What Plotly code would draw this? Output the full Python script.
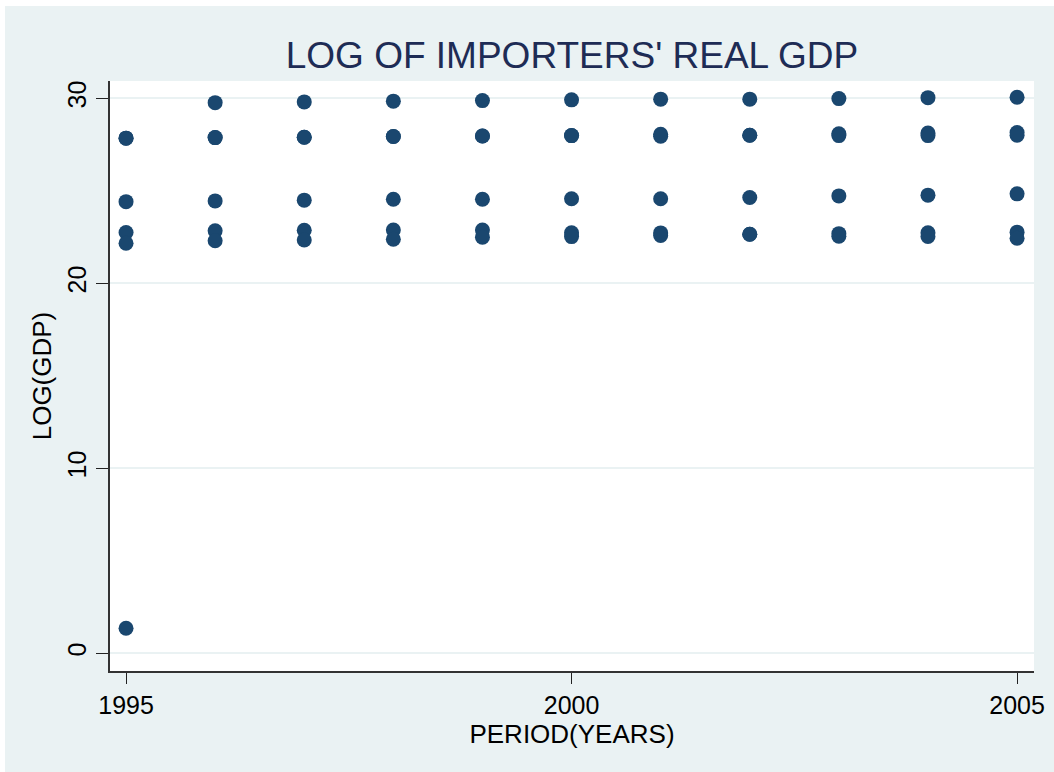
import plotly.graph_objects as go

# Period covered
years = [1995, 1996, 1997, 1998, 1999, 2000, 2001, 2002, 2003, 2004, 2005]

# Log of real GDP by importer
importer_a = [1.35, 29.76, 29.80, 29.84, 29.87, 29.91, 29.95, 29.95, 29.98, 30.03, 30.05]
importer_b = [27.84, 27.87, 27.89, 27.93, 27.96, 27.98, 28.05, 28.00, 28.08, 28.12, 28.14]
importer_c = [27.84, 27.87, 27.89, 27.93, 27.96, 27.98, 27.95, 28.00, 27.98, 27.98, 28.00]
importer_d = [24.41, 24.45, 24.49, 24.54, 24.54, 24.57, 24.57, 24.63, 24.72, 24.76, 24.83]
importer_e = [22.74, 22.83, 22.86, 22.88, 22.88, 22.73, 22.72, 22.65, 22.68, 22.73, 22.76]
importer_f = [22.16, 22.30, 22.34, 22.38, 22.49, 22.52, 22.58, 22.65, 22.54, 22.53, 22.43]

series = [importer_a, importer_b, importer_c, importer_d, importer_e, importer_f]

y_ticks = [0, 10, 20, 30]
x_ticks = [1995, 2000, 2005]

MARK = "#1a476f"
BG = "#eaf2f3"
FONT = "Liberation Sans, Arial, sans-serif"

fig = go.Figure()
for vals in series:
    fig.add_trace(go.Scatter(
        x=years, y=vals, mode="markers",
        marker=dict(size=15, color=MARK, line=dict(width=0)),
        showlegend=False, hoverinfo="x+y",
    ))

W, H = 1054, 772
L, R, T, B = 110, 20, 81, 101
pw, ph = W - L - R, H - T - B

def px(xp):
    return (xp - L) / pw

def py(yp):
    return (H - B - yp) / ph

fig.update_layout(
    width=W, height=H,
    margin=dict(l=L, r=R, t=T, b=B, pad=0),
    paper_bgcolor=BG,
    plot_bgcolor="white",
    font=dict(family=FONT, color="black"),
    title=dict(
        text="LOG OF IMPORTERS' REAL GDP",
        font=dict(size=37, color="#1e2c55", family=FONT),
        x=0.5, xref="paper", xanchor="center",
        y=1 - 55 / H, yref="container", yanchor="middle",
    ),
    xaxis=dict(
        range=[1994.82, 2005.19],
        tickmode="array", tickvals=x_ticks, ticktext=[str(v) for v in x_ticks],
        ticks="outside", ticklen=11, tickwidth=1.2, tickcolor="#222",
        tickfont=dict(size=25, color="black"),
        showgrid=False, zeroline=False,
        showline=True, linecolor="#333", linewidth=1.6,
        title=dict(text="PERIOD(YEARS)", font=dict(size=26, color="black"), standoff=0),
        automargin=False,
    ),
    yaxis=dict(
        range=[-0.957, 30.93],
        tickmode="array", tickvals=y_ticks, ticktext=[str(v) for v in y_ticks],
        ticks="outside", ticklen=12, tickwidth=1.2, tickcolor="#222",
        tickfont=dict(size=25, color="black"), tickangle=-90,
        showgrid=True, gridcolor=BG, gridwidth=2,
        zeroline=False,
        showline=True, linecolor="#333", linewidth=1.6,
        title=dict(text="LOG(GDP)", font=dict(size=26, color="black"), standoff=4),
        automargin=False,
    ),
    shapes=[
        # thin white frame along the top and left edges of the page
        dict(type="rect", xref="paper", yref="paper",
             x0=px(0), x1=px(W), y0=py(0), y1=py(6),
             fillcolor="white", line=dict(width=0), layer="above"),
        dict(type="rect", xref="paper", yref="paper",
             x0=px(0), x1=px(5), y0=py(H), y1=py(0),
             fillcolor="white", line=dict(width=0), layer="above"),
    ],
)

fig.write_html("out.html")
